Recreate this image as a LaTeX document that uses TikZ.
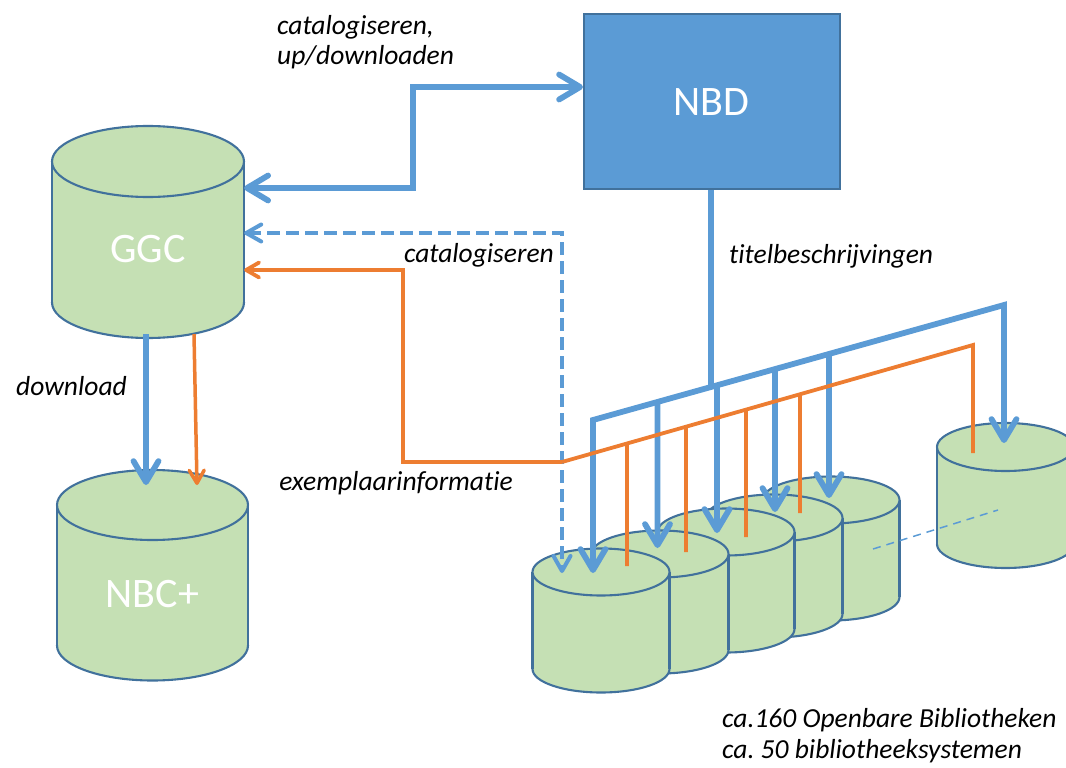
\documentclass[tikz,border=0pt]{standalone}
\usepackage{fontspec}
\setmainfont{Carlito}[Ligatures=NoCommon]
\usetikzlibrary{arrows.meta,calc}
\definecolor{bluel}{HTML}{5B9BD5}
\definecolor{blued}{HTML}{41719C}
\definecolor{orangec}{HTML}{ED7D31}
\definecolor{greenf}{HTML}{C5E0B4}
\frenchspacing
\tikzset{
  cylline/.style={draw=blued, line width=2.1pt},
  bigtip/.tip={Straight Barb[round,length=21pt,width=25pt]},
  midtip/.tip={Straight Barb[round,length=15pt,width=17pt]},
  smalltip/.tip={Straight Barb[round,length=13pt,width=15pt]},
  bluethick/.style={draw=bluel, line width=5.8pt},
  bluedash/.style={draw=bluel, line width=4pt, dash pattern=on 13pt off 6pt},
  orangeline/.style={draw=orangec, line width=3.8pt},
  lbl/.style={font=\fontsize{27.5}{30}\selectfont\itshape, inner sep=0pt},
  bigtxt/.style={font=\fontsize{42}{46}\selectfont, text=white, inner sep=0pt},
}
% #1 name, #2 cx, #3 y top centre, #4 y bottom centre, #5 rx, #6 ry
\newcommand\dbcyl[6]{%
  \fill[greenf] (#2-#5,#3) rectangle (#2+#5,#4);
  \fill[greenf] (#2,#4) ellipse [x radius=#5pt, y radius=#6pt];
  \begin{scope}
    \clip (#2-#5-4,#4) rectangle (#2+#5+4,#4+#6+4);
    \draw[cylline] (#2,#4) ellipse [x radius=#5pt, y radius=#6pt];
  \end{scope}
  \draw[cylline] (#2-#5,#3) -- (#2-#5,#4) (#2+#5,#3) -- (#2+#5,#4);
  \filldraw[cylline, fill=greenf] (#2,#3) ellipse [x radius=#5pt, y radius=#6pt];
  \node[inner sep=0pt, minimum width={2*#5*1pt}, minimum height={(#4-#3+2*#6)*1pt}]
    (#1) at (#2,{(#3+#4)/2}) {};
}
\begin{document}
\begin{tikzpicture}[x=1pt,y=-1pt]
\useasboundingbox (0,0) rectangle (1066,768);

% NBD box
\node[draw=blued, fill=bluel, line width=2pt, minimum width=256pt, minimum height=175pt,
      anchor=north west, inner sep=0pt] (nbd) at (583,13) {};
\node[bigtxt] (nbdtxt) at (711,102) {NBD};

% GGC and NBC+
\dbcyl{ggc}{148}{161.5}{302.5}{96}{35.5}
\node[bigtxt] (ggctxt) at (148,249) {GGC};
\dbcyl{nbc}{152.5}{505}{645.5}{95.5}{35}
\node[bigtxt] (nbctxt) at (152.5,594) {NBC+};

% library cylinders (back to front)
\dbcyl{libR}{1005.5}{447}{544}{68.5}{24}
\dbcyl{lib5}{831}{500}{597}{68.5}{23.5}
\dbcyl{lib4}{774}{518}{614}{68.5}{23.5}
\dbcyl{lib3}{726}{532}{629}{68.5}{23.5}
\dbcyl{lib2}{660}{554}{650}{68.5}{23.5}
\dbcyl{lib1}{601}{572}{669}{68.5}{23.5}

% thin dashed "more libraries"
\coordinate (mdA) at (873,549);
\coordinate (mdB) at (998,510);
\draw[bluel, line width=1.5pt, dash pattern=on 8pt off 6pt] (mdA) -- (mdB);

% GGC <-> NBD
\draw[bluethick, bigtip-bigtip] (ggc.east |- 0,188) -- (413,188) -- (413,87) -- (nbd.west |- 0,87);

% GGC -> NBC+
\coordinate (nbcB) at (146,485);
\coordinate (nbcO) at (197,485);
\draw[bluethick, -bigtip] (ggc.south -| 146,0) ++(0,-4) -- (nbcB);
\draw[draw=orangec, line width=3.5pt, -smalltip] (ggc.south -| 194,0) ++(0,-4) -- (nbcO);

% catalogiseren (dashed) libraries <-> GGC
\coordinate (dashT) at (562,573);
\draw[bluedash, midtip-midtip] (ggc.east |- 0,233) -- (562,233) -- (dashT);

% NBD -> bus
\coordinate (busL) at (593,420);
\coordinate (busR) at (1004,305);
\draw[bluethick] (nbd.south -| 711,0) -- ($(busL)!0.2871!(busR)$);
\draw[bluethick, line join=miter] ($(busL)+(0,2.9)$) -- (busL) -- (busR) -- ($(busR)+(0,2.9)$);
\coordinate (tR) at (1004,443);
\coordinate (t1) at (593,573);
\coordinate (t2) at (657.5,548);
\coordinate (t3) at (717,533);
\coordinate (t4) at (775,512);
\coordinate (t5) at (829,498);
\draw[bluethick, -bigtip] (busR) -- (tR);
\draw[bluethick, -bigtip] (busL) -- (t1);
\draw[bluethick, -bigtip] ($(busL)!0.1569!(busR)$) -- (t2);
\draw[bluethick, -bigtip] ($(busL)!0.3017!(busR)$) -- (t3);
\draw[bluethick, -bigtip] ($(busL)!0.4428!(busR)$) -- (t4);
\draw[bluethick, -bigtip] ($(busL)!0.5742!(busR)$) -- (t5);

% orange exemplaarinformatie
\coordinate (obL) at (562,462);
\coordinate (obR) at (973,345);
\draw[orangeline, -smalltip] (obL) -- (403,462) -- (403,270) -- (ggc.east |- 0,270);
\draw[orangeline] (obL) -- (obR) -- (973,453);
\coordinate (o1) at (627,566);
\coordinate (o2) at (686,552);
\coordinate (o3) at (746,537);
\coordinate (o4) at (800,513);
\draw[orangeline] ($(obL)!0.1582!(obR)$) -- (o1);
\draw[orangeline] ($(obL)!0.3017!(obR)$) -- (o2);
\draw[orangeline] ($(obL)!0.4477!(obR)$) -- (o3);
\draw[orangeline] ($(obL)!0.5791!(obR)$) -- (o4);

% labels
\node[lbl, anchor=base west] (l1) at (277,35) {catalogiseren,};
\node[lbl, anchor=base west] (l2) at (277,65) {up/downloaden};
\node[lbl, anchor=base east] (l3) at (554,262) {catalogiseren};
\node[lbl, anchor=base west] (l4) at (729,263) {titelbeschrijvingen};
\node[lbl, anchor=base west] (l5) at (16,395) {download};
\node[lbl, anchor=base east] (l6) at (513,490) {exemplaarinformatie};
\node[lbl, anchor=base west] (l7) at (722,727) {ca.160 Openbare Bibliotheken};
\node[lbl, anchor=base west] (l8) at (722,758) {ca. 50 bibliotheeksystemen};
\end{tikzpicture}
\end{document}
